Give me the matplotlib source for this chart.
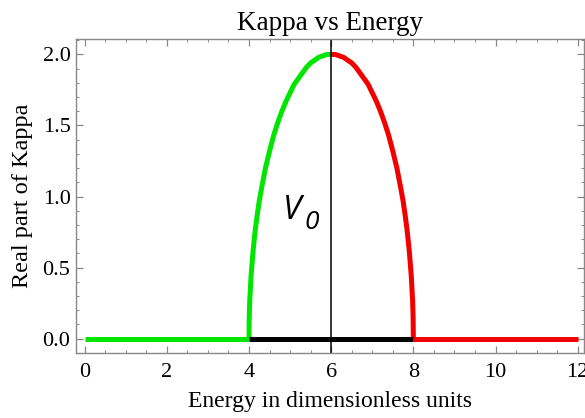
import matplotlib
matplotlib.use("Agg")
import matplotlib.pyplot as plt
from matplotlib.ticker import MultipleLocator, FormatStrFormatter

plt.rcParams['font.family'] = ['Liberation Serif', 'DejaVu Serif']

# values
green_flat_e = [0, 4]
green_flat_k = [0.0, 0.0]
green_e = [4.0, 4.005, 4.01, 4.02, 4.05, 4.1, 4.15, 4.2, 4.25, 4.3, 4.4, 4.5, 4.6, 4.7,
           4.8, 4.9, 5.0, 5.1, 5.2, 5.3, 5.4, 5.5, 5.6, 5.7, 5.8, 5.9, 6.0]
green_k = [0.0, 0.14, 0.20, 0.28, 0.44, 0.62, 0.76, 0.87, 0.97, 1.05, 1.20, 1.32, 1.43, 1.52,
           1.60, 1.67, 1.73, 1.79, 1.83, 1.87, 1.91, 1.94, 1.96, 1.98, 1.99, 2.0, 2.0]
red_e = [6.0, 6.1, 6.2, 6.3, 6.4, 6.5, 6.6, 6.7, 6.8, 6.9, 7.0, 7.1, 7.2, 7.3, 7.4, 7.5,
         7.6, 7.7, 7.75, 7.8, 7.85, 7.9, 7.95, 7.98, 7.99, 7.995, 8.0]
red_k = [2.0, 2.0, 1.99, 1.98, 1.96, 1.94, 1.91, 1.87, 1.83, 1.79, 1.73, 1.67, 1.60, 1.52,
         1.43, 1.32, 1.20, 1.05, 0.97, 0.87, 0.76, 0.62, 0.44, 0.28, 0.20, 0.14, 0.0]
red_flat_e = [8, 12]
red_flat_k = [0.0, 0.0]
black_e = [4, 8]
black_k = [0.0, 0.0]
v0 = 6

fig = plt.figure(figsize=(5.85, 4.18), dpi=100)
ax = fig.add_axes([0.130, 0.1555, 0.868, 0.751])

lw = 3.6
grn = '#00e600'
rd = '#f20000'
ax.plot(green_flat_e, green_flat_k, color=grn, lw=lw, solid_capstyle='butt')
ax.plot(green_e, green_k, color=grn, lw=lw, solid_capstyle='butt')
ax.plot(red_e, red_k, color=rd, lw=lw, solid_capstyle='butt')
ax.plot(red_flat_e, red_flat_k, color=rd, lw=lw, solid_capstyle='butt')
ax.plot(black_e, black_k, color='black', lw=lw, solid_capstyle='butt')
ax.axvline(v0, color='black', lw=1.1)

# V0 label
ax.text(4.83, 0.90, 'V', family='Open Sans', style='italic', fontsize=24,
        va='center', ha='left')
ax.text(5.36, 0.82, '0', family='Open Sans', style='italic', fontsize=19,
        va='center', ha='left')

ax.set_xlim(-0.21, 12.15)
ax.set_ylim(-0.101, 2.108)
ax.xaxis.set_major_locator(MultipleLocator(2))
ax.xaxis.set_minor_locator(MultipleLocator(0.5))
ax.yaxis.set_major_locator(MultipleLocator(0.5))
ax.yaxis.set_minor_locator(MultipleLocator(0.1))
ax.yaxis.set_major_formatter(FormatStrFormatter('%.1f'))

for s in ax.spines.values():
    s.set_color('#888888')
    s.set_linewidth(1.0)
ax.tick_params(which='both', direction='in', top=True, right=True, color='#888888',
               labelsize=16)
ax.tick_params(which='major', length=5, width=0.9)
ax.tick_params(which='minor', length=2.5, width=0.7)
ax.tick_params(axis='x', pad=7)
ax.tick_params(axis='y', pad=4)

ax.set_title('Kappa vs Energy', fontsize=19.5, pad=6.5)
ax.set_xlabel('Energy in dimensionless units', fontsize=17, labelpad=7)
ax.set_ylabel('Real part of Kappa', fontsize=17.5, labelpad=7)

fig.savefig('out.png', dpi=100)
